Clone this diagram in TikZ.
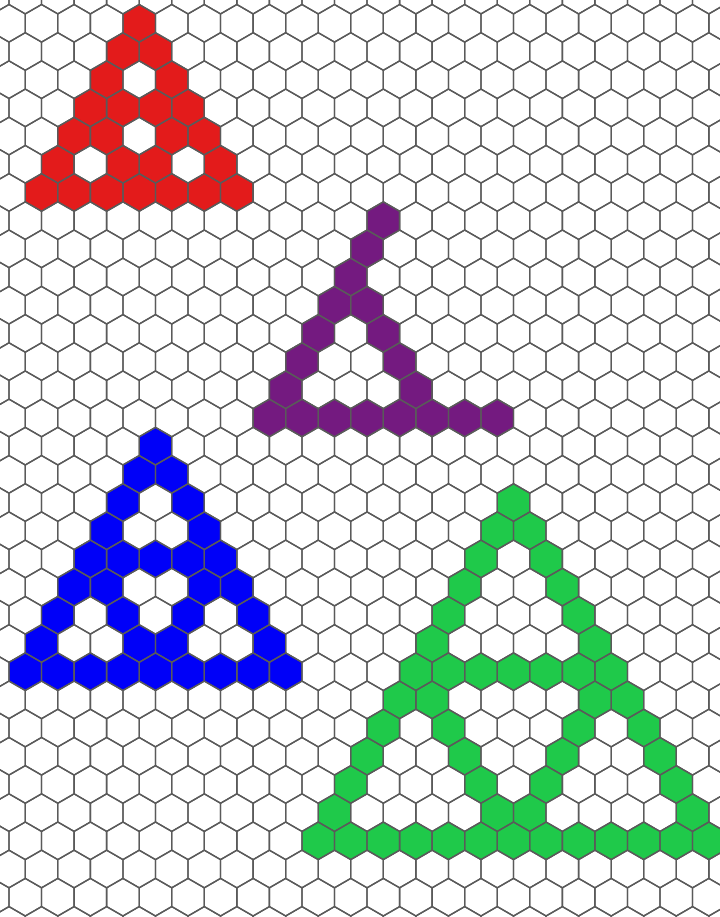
\documentclass[tikz,border=0pt]{standalone}
\definecolor{edgec}{HTML}{5A5A5A}
\definecolor{cred}{HTML}{E31B1B}
\definecolor{cpurple}{HTML}{741A80}
\definecolor{cblue}{HTML}{0000F8}
\definecolor{cgreen}{HTML}{1FC94A}
\newcommand\hexcell[3]{%
  \pgfmathsetmacro\hcx{9+32.55*(#2)+16.275*mod((#1)+2,2)}%
  \pgfmathsetmacro\hcy{23.3+28.19*(#1)}%
  \path[#3] (\hcx,\hcy) +(0,-18.79) -- +(16.275,-9.395) -- +(16.275,9.395)
    -- +(0,18.79) -- +(-16.275,9.395) -- +(-16.275,-9.395) -- cycle;%
}
\tikzset{
  gridcell/.style={draw=edgec,line width=1pt,line join=round},
  redcell/.style={fill=cred},
  purplecell/.style={fill=cpurple},
  bluecell/.style={fill=cblue},
  greencell/.style={fill=cgreen}
}
\begin{document}
\begin{tikzpicture}[x=0.75pt,y=-0.75pt]
\useasboundingbox (0,0) rectangle (720,917);
\clip (0,0) rectangle (720,917);
\fill[white] (0,0) rectangle (720,917);
% red
\foreach \j/\i in {0/4,1/3,1/4,2/3,2/5,3/2,3/3,3/4,3/5,4/2,4/3,4/5,4/6,5/1,5/3,5/4,5/6,6/1,6/2,6/3,6/4,6/5,6/6,6/7}
  {\hexcell{\j}{\i}{redcell}}
% purple
\foreach \j/\i in {7/11,8/11,9/10,10/10,10/11,11/9,11/11,12/9,12/12,13/8,13/12,14/8,14/9,14/10,14/11,14/12,14/13,14/14,14/15}
  {\hexcell{\j}{\i}{purplecell}}
% blue
\foreach \j/\i in {15/4,16/4,16/5,17/3,17/5,18/3,18/6,19/2,19/3,19/4,19/5,19/6,20/2,20/3,20/6,20/7,21/1,21/3,21/5,21/7,22/1,22/4,22/5,22/8,23/0,23/1,23/2,23/3,23/4,23/5,23/6,23/7,23/8}
  {\hexcell{\j}{\i}{bluecell}}
% green
\foreach \j/\i in {17/15,18/15,18/16,19/14,19/16,20/14,20/17,21/13,21/17,22/13,22/18,23/12,23/13,23/14,23/15,23/16,23/17,23/18,24/12,24/13,24/18,24/19,25/11,25/13,25/17,25/19,26/11,26/14,26/17,26/20,27/10,27/14,27/16,27/20,28/10,28/15,28/16,28/21}
  {\hexcell{\j}{\i}{greencell}}
\foreach \i in {9,...,21} {\hexcell{29}{\i}{greencell}}
% grid
\foreach \j in {-1,...,32} {
  \foreach \i in {-1,...,22} {\hexcell{\j}{\i}{gridcell}}
}
\end{tikzpicture}
\end{document}
